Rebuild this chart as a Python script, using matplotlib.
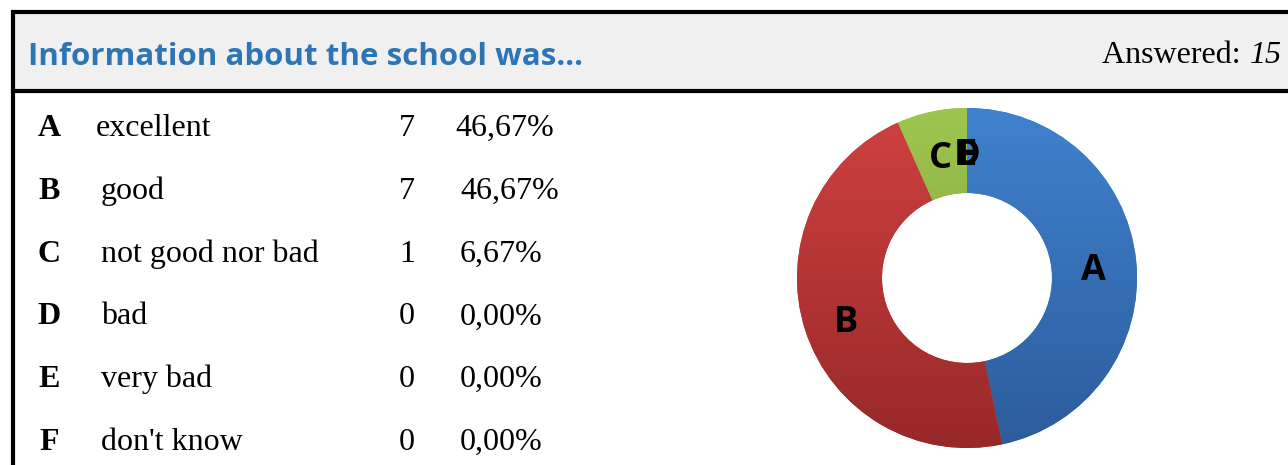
import matplotlib
matplotlib.use("Agg")
import matplotlib.pyplot as plt
import numpy as np
from matplotlib.colors import LinearSegmentedColormap

# ---- data ----
title = "Information about the school was..."
answered = 15
letters = ["A", "B", "C", "D", "E", "F"]
options = ["excellent", "good", "not good nor bad", "bad", "very bad", "don't know"]
counts = [7, 7, 1, 0, 0, 0]
percents = ["46,67%", "46,67%", "6,67%", "0,00%", "0,00%", "0,00%"]

W, H = 1288, 465
fig = plt.figure(figsize=(W / 100, H / 100), dpi=100)
fig.patch.set_facecolor("white")

# full-figure pixel axes for frame and table
bg = fig.add_axes([0, 0, 1, 1])
bg.set_xlim(0, W)
bg.set_ylim(H, 0)
bg.axis("off")

# header background
bg.add_patch(plt.Rectangle((12, 12), W - 12, 80, facecolor="#f0f0f0", edgecolor="none", zorder=0))
# borders
bg.plot([11, W], [12, 12], color="black", lw=3.0, solid_capstyle="butt")
bg.plot([11, W], [91, 91], color="black", lw=3.0, solid_capstyle="butt")
bg.plot([13, 13], [10.5, H], color="black", lw=3.0, solid_capstyle="butt")

# header texts
bg.text(28, 65, title, fontsize=22.5, fontweight="bold", color="#2e75b6",
        family=["Open Sans", "DejaVu Sans"], va="baseline", ha="left")
serif = ["Liberation Serif", "DejaVu Serif"]
bg.text(1282, 63, f"{answered}", fontsize=23, style="italic", family=serif,
        va="baseline", ha="right")
bg.text(1249, 63, "Answered: ", fontsize=23, family=serif, va="baseline", ha="right")

# table rows
row_base0 = 136
row_step = 62.8
label_x = [96, 101, 101, 101, 101, 101]
pct_x = [455, 460, 460, 460, 460, 460]
for i, (l, o, c, p) in enumerate(zip(letters, options, counts, percents)):
    y = row_base0 + i * row_step
    bg.text(49, y, l, fontsize=23, fontweight="bold", family=serif, va="baseline", ha="center")
    bg.text(label_x[i], y, o, fontsize=23, family=serif, va="baseline", ha="left")
    bg.text(407, y, str(c), fontsize=23, family=serif, va="baseline", ha="center")
    bg.text(pct_x[i], y, p, fontsize=23, family=serif, va="baseline", ha="left")

# donut chart
cx, cy, R = 967, 278, 170
pax = fig.add_axes([(cx - R) / W, (H - cy - R) / H, 2 * R / W, 2 * R / H])
tops = ["#3f82cf", "#d04141", "#9dc64e", "#888888", "#888888", "#888888"]
bots = ["#2c5c9b", "#982828", "#7a983a", "#666666", "#666666", "#666666"]
mids = ["#3570b8", "#b93434", "#8cb245", "#777777", "#777777", "#777777"]
wedges, _ = pax.pie(counts, startangle=90, counterclock=False, radius=1.0,
                    colors=mids, wedgeprops=dict(width=0.5, edgecolor="none"))
grad = np.linspace(0, 1, 256).reshape(-1, 1)
for w, t, b, c in zip(wedges, tops, bots, counts):
    if c == 0:
        continue
    cmap = LinearSegmentedColormap.from_list("g", [t, b])
    im = pax.imshow(grad, extent=[-1, 1, -1, 1], cmap=cmap, origin="upper",
                    aspect="auto", zorder=2)
    im.set_clip_path(w)
for w, l in zip(wedges, letters):
    ang = np.deg2rad((w.theta1 + w.theta2) / 2)
    pax.text(0.75 * np.cos(ang), 0.75 * np.sin(ang) - 0.035, l, ha="center", va="center",
             fontsize=26, fontweight="bold", family=["Open Sans", "DejaVu Sans"],
             color="black", zorder=3)
pax.set_xlim(-1, 1)
pax.set_ylim(-1, 1)
pax.set_aspect("equal")
pax.axis("off")

fig.savefig("out.png", dpi=100)
